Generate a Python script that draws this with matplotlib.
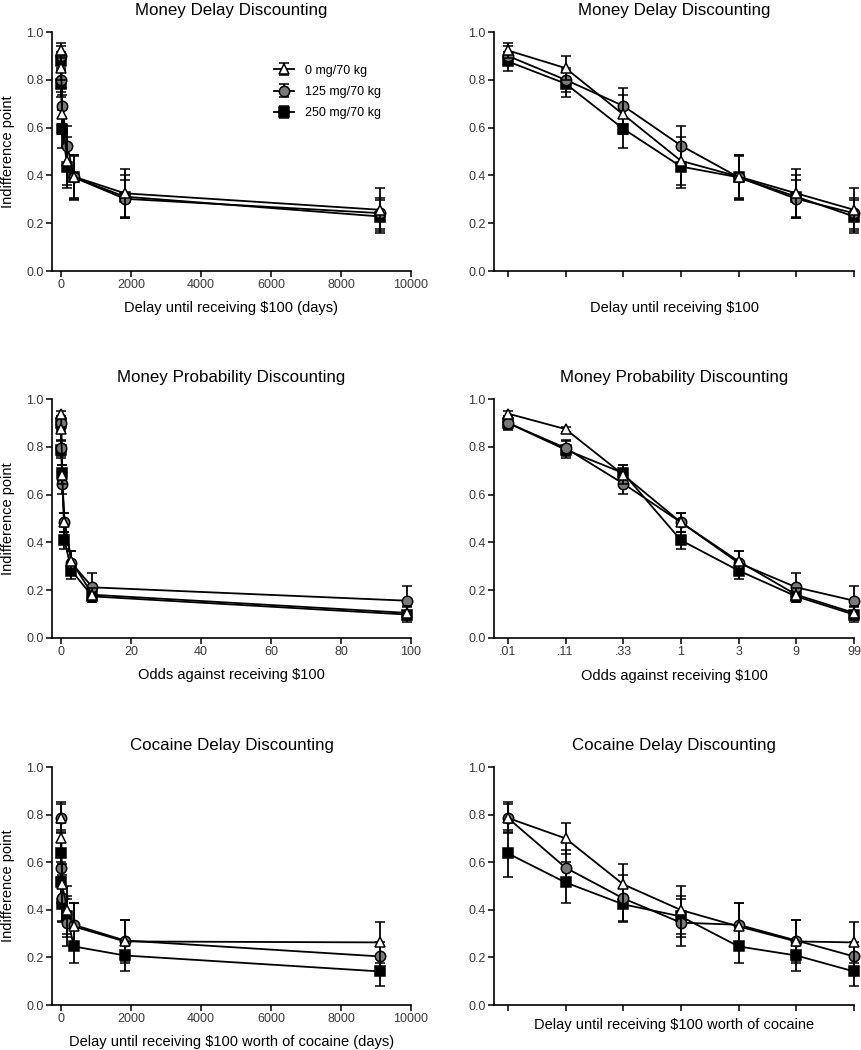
import matplotlib
matplotlib.use("Agg")
import matplotlib.pyplot as plt

plt.rcParams['font.family'] = ['Liberation Sans', 'DejaVu Sans']

# x values
delay_days = [1, 7, 30, 183, 365, 1825, 9125]
odds = [0.01, 0.11, 0.33, 1, 3, 9, 99]
odds_labels = ['.01', '.11', '.33', '1', '3', '9', '99']
doses = ['0 mg/70 kg', '125 mg/70 kg', '250 mg/70 kg']

# money delay discounting (mean, sem)
md_0 = [0.923, 0.849, 0.655, 0.461, 0.395, 0.325, 0.256]
md_0_sem = [0.03, 0.05, 0.08, 0.10, 0.09, 0.10, 0.09]
md_125 = [0.90, 0.80, 0.691, 0.525, 0.392, 0.302, 0.242]
md_125_sem = [0.04, 0.05, 0.075, 0.08, 0.09, 0.08, 0.065]
md_250 = [0.877, 0.784, 0.595, 0.437, 0.392, 0.311, 0.228]
md_250_sem = [0.04, 0.055, 0.08, 0.09, 0.095, 0.09, 0.07]

# money probability discounting
mp_0 = [0.939, 0.874, 0.683, 0.484, 0.321, 0.181, 0.105]
mp_0_sem = [0.01, 0.01, 0.04, 0.04, 0.045, 0.03, 0.03]
mp_125 = [0.90, 0.795, 0.646, 0.484, 0.314, 0.212, 0.156]
mp_125_sem = [0.025, 0.035, 0.045, 0.04, 0.05, 0.06, 0.062]
mp_250 = [0.90, 0.788, 0.69, 0.409, 0.282, 0.174, 0.098]
mp_250_sem = [0.03, 0.035, 0.035, 0.035, 0.035, 0.025, 0.03]

# cocaine delay discounting
cd_0 = [0.786, 0.70, 0.507, 0.399, 0.33, 0.267, 0.263]
cd_0_sem = [0.06, 0.065, 0.085, 0.10, 0.10, 0.09, 0.085]
cd_125 = [0.786, 0.577, 0.448, 0.346, 0.337, 0.271, 0.204]
cd_125_sem = [0.065, 0.075, 0.10, 0.10, 0.09, 0.085, 0.06]
cd_250 = [0.637, 0.515, 0.423, 0.372, 0.246, 0.208, 0.141]
cd_250_sem = [0.10, 0.085, 0.07, 0.085, 0.07, 0.067, 0.063]

styles = [dict(marker='^', mfc='white', ms=7.5),
          dict(marker='o', mfc='#7a7a7a', ms=7.5),
          dict(marker='s', mfc='black', ms=6.5)]

fig = plt.figure(figsize=(8.61, 10.5), dpi=100)

W = 861.0
H = 1050.0
def make_ax(l, t, r, b):
    return fig.add_axes([l / W, 1 - b / H, (r - l) / W, (b - t) / H])

def style_ax(ax, title):
    for s in ['top', 'right']:
        ax.spines[s].set_visible(False)
    for s in ['left', 'bottom']:
        ax.spines[s].set_linewidth(1.2)
    ax.tick_params(direction='out', length=4, width=1.1, labelsize=9,
                   labelcolor='#3a3a3a', pad=2)
    ax.set_ylim(0, 1.0)
    ax.set_yticks([0, 0.2, 0.4, 0.6, 0.8, 1.0])
    ax.set_yticklabels(['0.0', '0.2', '0.4', '0.6', '0.8', '1.0'])
    ax.set_title(title, fontsize=12.2, pad=12)

def draw(ax, x, series, sems):
    handles = []
    for i in [2, 1, 0]:
        h = ax.errorbar(x, series[i], yerr=sems[i], color='black', lw=1.3,
                        elinewidth=1.3, capsize=3.5, capthick=1.3,
                        mec='black', mew=1.1, clip_on=False, zorder=3 + (2 - i),
                        **styles[i])
        for a in h.lines[1] + h.lines[2]:
            a.set_clip_on(False)
        handles.append(h)
    return handles[::-1]

rows = [
    ('Money Delay Discounting', md_0, md_125, md_250, md_0_sem, md_125_sem, md_250_sem, 32, 271),
    ('Money Probability Discounting', mp_0, mp_125, mp_250, mp_0_sem, mp_125_sem, mp_250_sem, 399, 638),
    ('Cocaine Delay Discounting', cd_0, cd_125, cd_250, cd_0_sem, cd_125_sem, cd_250_sem, 767, 1005),
]

for r, (title, s0, s1, s2, e0, e1, e2, top, bot) in enumerate(rows):
    # left: real x scale
    axl = make_ax(52, top, 411, bot)
    style_ax(axl, title)
    if r == 1:
        hs = draw(axl, odds, [s0, s1, s2], [e0, e1, e2])
        axl.set_xlim(-2.57, 100)
        axl.set_xticks(range(0, 101, 20))
        axl.set_xlabel('Odds against receiving $100', fontsize=10.5)
    else:
        hs = draw(axl, delay_days, [s0, s1, s2], [e0, e1, e2])
        axl.set_xlim(-257, 10000)
        axl.set_xticks(range(0, 10001, 2000))
        if r == 0:
            axl.set_xlabel('Delay until receiving $100 (days)', fontsize=10.5)
        else:
            axl.set_xlabel('Delay until receiving $100 worth of cocaine (days)', fontsize=10.5)
    axl.xaxis.set_label_coords(0.5, -0.155)
    axl.xaxis.label.set_va('center')
    axl.set_ylabel('Indifference point', fontsize=10.5)
    axl.yaxis.set_label_coords(-0.123, 0.5)
    axl.yaxis.label.set_va('center')
    if r == 0:
        axl.legend(hs, doses, loc='upper left', bbox_to_anchor=(0.6, 0.89),
                   frameon=False, fontsize=9, handlelength=1.6,
                   labelspacing=0.75, borderpad=0, handletextpad=0.9)

    # right: evenly spaced x
    axr = make_ax(494, top, 854, bot)
    style_ax(axr, title)
    pos = list(range(1, 8))
    draw(axr, pos, [s0, s1, s2], [e0, e1, e2])
    axr.set_xlim(0.76, 7.0)
    axr.set_xticks(pos)
    if r == 1:
        axr.set_xticklabels(odds_labels)
        axr.set_xlabel('Odds against receiving $100', fontsize=10.5)
        axr.xaxis.set_label_coords(0.5, -0.159)
    else:
        axr.set_xticklabels([])
        if r == 0:
            axr.set_xlabel('Delay until receiving $100', fontsize=10.5)
            axr.xaxis.set_label_coords(0.5, -0.155)
        else:
            axr.set_xlabel('Delay until receiving $100 worth of cocaine', fontsize=10.5)
            axr.xaxis.set_label_coords(0.5, -0.084)
    axr.xaxis.label.set_va('center')

fig.savefig('out.png', dpi=100)
